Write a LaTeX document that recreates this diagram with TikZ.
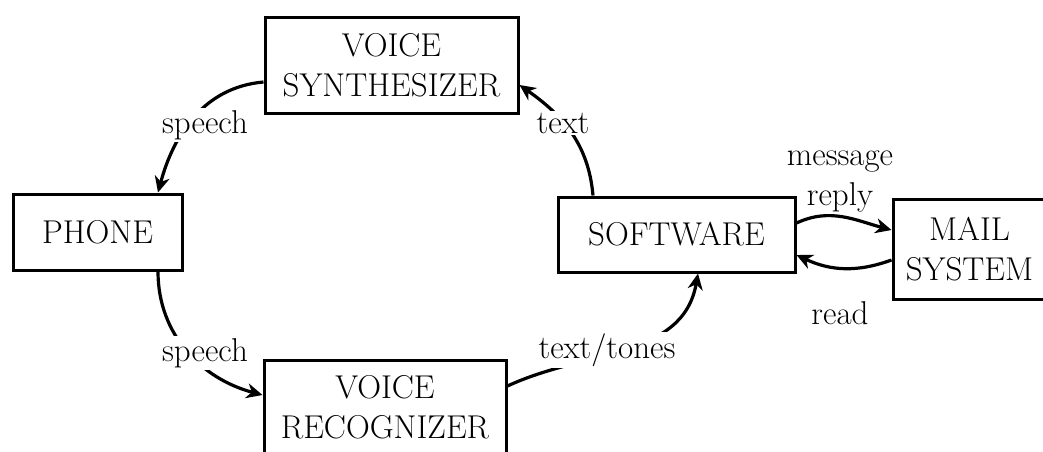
\documentclass[tikz,border=0pt]{standalone}
\usetikzlibrary{arrows.meta}

\begin{document}
\begin{tikzpicture}[x=1pt, y=1pt,
  every node/.style={font=\fontsize{33}{40}\selectfont},
  box/.style={draw, line width=3pt, align=center, inner sep=0pt},
  flow/.style={line width=3.2pt, -{Stealth[length=16pt, width=15pt, inset=5pt]}},
  lbl/.style={fill=white, inner sep=2pt}]
  \useasboundingbox (0,0) rectangle (1043,-451);

  % Boxes
  \node[box, minimum width=253pt, minimum height=96pt] (synth) at (391.5,-65) {VOICE\\SYNTHESIZER};
  \node[box, minimum width=169pt, minimum height=76pt] (phone) at (97.5,-232) {PHONE};
  \node[box, minimum width=237pt, minimum height=75pt] (soft) at (676.5,-234.5) {SOFTWARE};
  \node[box, minimum width=153pt, minimum height=100pt] (mail) at (969.5,-249) {MAIL\\SYSTEM};
  \node[box, minimum width=242pt, minimum height=95pt] (recog) at (385,-407.5) {VOICE\\RECOGNIZER};

  % Arrows
  \draw[flow] ([yshift=-17pt]synth.west) to[out=185, in=75] ([xshift=60.5pt]phone.north);
  \draw[flow] ([xshift=60.5pt]phone.south) to[out=-90, in=165] ([yshift=12.5pt]recog.west);
  \draw[flow] ([yshift=21.5pt]recog.east) to[out=25, in=-100] ([xshift=21.5pt]soft.south);
  \draw[flow] ([xshift=-83.5pt]soft.north) to[out=95, in=-35] ([yshift=-20pt]synth.east);
  \draw[flow] ([yshift=11.5pt]soft.east) to[out=25, in=165] ([yshift=19pt]mail.west);
  \draw[flow] ([yshift=-11pt]mail.west) to[out=200, in=-25] ([yshift=-20.5pt]soft.east);

  % Labels
  \node[lbl] (speechout) at (205,-125) {speech};
  \node[lbl] (speechin) at (205,-353) {speech};
  \node[lbl] (tones) at (607,-350) {text/tones};
  \node[lbl] (text) at (563,-123) {text};
  \node[align=center] (msg) at (840,-181) {message\\reply};
  \node (read) at (840,-313) {read};
\end{tikzpicture}
\end{document}
